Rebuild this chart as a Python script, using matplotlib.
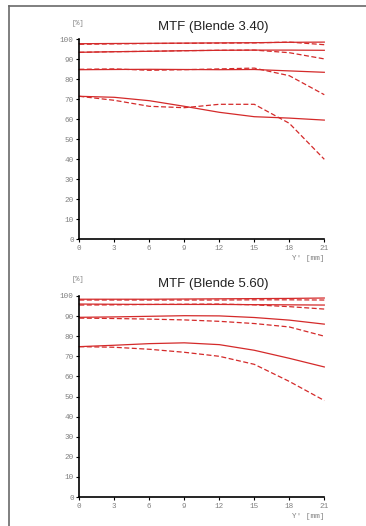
import matplotlib
matplotlib.use("Agg")
import matplotlib.pyplot as plt
from matplotlib.lines import Line2D

# image height positions (mm)
y_pos = [0, 3, 6, 9, 12, 15, 18, 21]

# MTF at f/3.4 (%), solid = sagittal, dashed = tangential
f34_solid = [
    [97.8, 97.9, 98.0, 98.1, 98.2, 98.3, 98.5, 98.6],
    [93.5, 93.8, 94.0, 94.3, 94.5, 94.6, 94.6, 94.5],
    [84.8, 84.9, 85.0, 84.9, 84.8, 84.9, 84.2, 83.5],
    [71.5, 71.0, 69.3, 66.5, 63.5, 61.3, 60.6, 59.6],
]
f34_dashed = [
    [97.5, 97.7, 97.9, 98.0, 98.1, 98.2, 98.6, 97.3],
    [93.5, 93.8, 94.0, 94.3, 94.5, 94.6, 93.3, 90.2],
    [85.0, 85.2, 84.5, 84.8, 85.2, 85.6, 81.8, 72.3],
    [71.5, 69.5, 66.5, 65.8, 67.5, 67.5, 58.0, 40.0],
]

# MTF at f/5.6 (%)
f56_solid = [
    [98.4, 98.4, 98.4, 98.5, 98.6, 98.7, 98.8, 99.0],
    [96.0, 95.9, 95.8, 95.8, 95.8, 95.7, 95.6, 95.5],
    [89.4, 89.6, 89.9, 90.2, 90.1, 89.3, 88.0, 86.0],
    [74.8, 75.5, 76.3, 76.7, 75.8, 73.0, 69.0, 64.7],
]
f56_dashed = [
    [98.0, 98.0, 98.0, 98.0, 98.0, 98.1, 98.1, 98.0],
    [95.5, 95.6, 95.8, 95.9, 96.0, 95.6, 94.7, 93.5],
    [89.0, 88.8, 88.5, 88.1, 87.4, 86.3, 84.6, 80.0],
    [74.8, 74.5, 73.5, 72.0, 70.0, 66.0, 57.5, 48.0],
]

titles = ["MTF (Blende 3.40)", "MTF (Blende 5.60)"]
x_ticks = [0, 3, 6, 9, 12, 15, 18, 21]
y_ticks = [0, 10, 20, 30, 40, 50, 60, 70, 80, 90, 100]

red = "#d42a2a"
grey = "#808080"

fig = plt.figure(figsize=(3.66, 5.26), dpi=100)

# frame (top and left edge only)
fig.add_artist(Line2D([9 / 366, 9 / 366], [0, 1 - 6 / 526], transform=fig.transFigure,
                      color="#6a6a6a", lw=1.2))
fig.add_artist(Line2D([9 / 366, 1], [1 - 6 / 526, 1 - 6 / 526], transform=fig.transFigure,
                      color="#6a6a6a", lw=1.2))

panels = [
    (f34_solid, f34_dashed, [79.3 / 366, 1 - 239.3 / 526, 245 / 366, 200 / 526]),
    (f56_solid, f56_dashed, [79.3 / 366, 1 - 497 / 526, 245 / 366, 201 / 526]),
]

for i, (solid, dashed, rect) in enumerate(panels):
    ax = fig.add_axes(rect)
    for s in solid:
        ax.plot(y_pos, s, color=red, lw=0.9, clip_on=False)
    for d in dashed:
        ax.plot(y_pos, d, color=red, lw=0.9, ls=(0, (4, 2)), clip_on=False)

    ax.set_xlim(0, 21)
    ax.set_ylim(0, 100)
    ax.set_xticks(x_ticks)
    ax.set_yticks(y_ticks)
    ax.set_xticklabels([str(t) for t in x_ticks], family="Liberation Mono", fontsize=5.5, color=grey)
    ax.set_yticklabels([str(t) for t in y_ticks], family="Liberation Mono", fontsize=5.5, color=grey)
    ax.tick_params(direction="out", length=2.5, width=0.8, pad=1.5, color="black")
    for side in ["top", "right"]:
        ax.spines[side].set_visible(False)
    for side in ["left", "bottom"]:
        ax.spines[side].set_linewidth(1.2)

    ax.text(-0.005, 1.08, "[%]", transform=ax.transAxes, family="Liberation Mono",
            fontsize=5, color=grey, ha="center", va="center")
    ax.text(0.545, 1.06, titles[i], transform=ax.transAxes, family="Liberation Sans",
            fontsize=9.5, color="#222222", ha="center", va="center")
    ax.text(1.0, -0.095, "Y' [mm]", transform=ax.transAxes, family="Liberation Mono",
            fontsize=5.5, color=grey, ha="right", va="center")

fig.savefig("out.png", dpi=100)
